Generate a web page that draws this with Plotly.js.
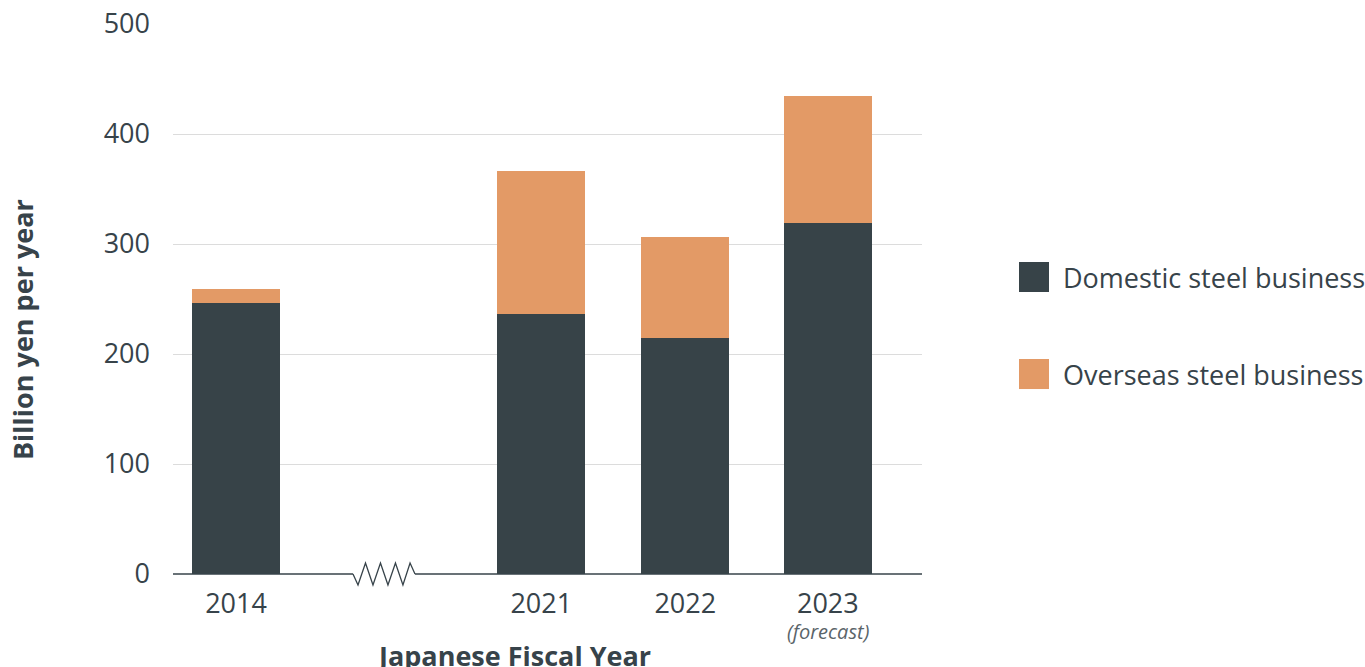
<!DOCTYPE html>
<html>
<head>
<meta charset="utf-8">
<script src="https://cdn.plot.ly/plotly-3.0.1.min.js"></script>
<style>html,body{margin:0;padding:0;background:#fff;}#chart{width:1365px;height:667px;}</style>
</head>
<body>
<div id="chart"></div>
<script>
// Data
const years = ["2014", "2021", "2022", "2023"];
const yearPositions = [0, 2.12, 3.12, 4.11]; // axis break between 2014 and 2021
const domestic = [246, 236, 215, 319];
const overseas = [13, 130, 91, 116];
const seriesNames = ["Domestic steel business", "Overseas steel business"];
const seriesColors = ["#374348", "#e39a66"];
const forecastNote = "(forecast)";
const xTitle = "Japanese Fiscal Year";
const yTitle = "Billion yen per year";

const textColor = "#37434a";
const fontFamily = "'Open Sans', 'Noto Sans', sans-serif";
const fs = 27;

const traces = [
  {type: "bar", x: yearPositions, y: domestic, name: seriesNames[0],
   marker: {color: seriesColors[0]}, width: 0.61, showlegend: false, hoverinfo: "y+name"},
  {type: "bar", x: yearPositions, y: overseas, name: seriesNames[1],
   marker: {color: seriesColors[1]}, width: 0.61, showlegend: false, hoverinfo: "y+name"}
];

// Custom legend (big squares)
const legendShapes = [];
const legendAnn = [];
const legendY = [0.54, 0.3636];
seriesNames.forEach((n, i) => {
  legendShapes.push({type: "rect", xref: "paper", yref: "paper",
    x0: 1.1295, x1: 1.1696, y0: legendY[i] - 0.0273, y1: legendY[i] + 0.0273,
    fillcolor: seriesColors[i], line: {width: 0}});
  legendAnn.push({xref: "paper", yref: "paper", x: 1.1855, y: legendY[i],
    xanchor: "left", yanchor: "middle", showarrow: false, text: n,
    font: {size: fs, color: textColor, family: fontFamily}});
});

// x axis line with a break (zigzag), in paper coordinates
const axisColor = "#37434a";
const zzX = [0.2403, 0.2470, 0.2570, 0.2670, 0.2770, 0.2870, 0.2970, 0.3070, 0.3165, 0.3231];
const zzY = [0, -1, 1, -1, 1, -1, 1, -1, 1, 0];
let path = "";
zzX.forEach((px, i) => {
  path += (i === 0 ? "M" : "L") + px + "," + (zzY[i] * 0.02) + " ";
});
const axisShapes = [
  {type: "line", xref: "paper", yref: "paper", x0: 0, x1: zzX[0], y0: 0, y1: 0, line: {color: axisColor, width: 1.3}},
  {type: "path", xref: "paper", yref: "paper", path: path, line: {color: axisColor, width: 1.3}},
  {type: "line", xref: "paper", yref: "paper", x0: zzX[zzX.length - 1], x1: 1, y0: 0, y1: 0, line: {color: axisColor, width: 1.3}}
];

const layout = {
  width: 1365, height: 667,
  margin: {l: 173, r: 443, t: 24, b: 93},
  paper_bgcolor: "#fff", plot_bgcolor: "#fff",
  barmode: "stack",
  font: {family: fontFamily, color: textColor, size: fs},
  showlegend: false,
  xaxis: {
    range: [-0.4375, 4.764],
    tickvals: yearPositions, ticktext: years,
    showgrid: false, zeroline: false, showline: false,
    ticks: "", ticklabelstandoff: 11,
    tickfont: {size: fs, color: textColor}
  },
  yaxis: {
    range: [0, 500], tickvals: [0, 100, 200, 300, 400, 500],
    showgrid: true, gridcolor: "#dcdcdc", gridwidth: 1,
    zeroline: false, showline: false, ticks: "",
    ticklabelstandoff: 22,
    tickfont: {size: fs, color: textColor}
  },
  shapes: axisShapes.concat(legendShapes),
  annotations: legendAnn.concat([
    {xref: "x", yref: "paper", x: yearPositions[3], y: 0, yshift: -57,
     xanchor: "center", yanchor: "middle", showarrow: false,
     text: "<i>" + forecastNote + "</i>", font: {size: 20, color: "#5a6469", family: fontFamily}},
    {xref: "paper", yref: "paper", x: 0.4553, y: -0.1473, xanchor: "center", yanchor: "middle",
     showarrow: false, text: "<b>" + xTitle + "</b>", font: {size: fs, color: textColor, family: fontFamily}},
    {xref: "paper", yref: "paper", x: -0.2016, y: 0.4436, xanchor: "center", yanchor: "middle",
     textangle: -90, showarrow: false, text: "<b>" + yTitle + "</b>", font: {size: fs, color: textColor, family: fontFamily}}
  ])
};

Plotly.newPlot("chart", traces, layout, {displayModeBar: false, staticPlot: true});
</script>
</body>
</html>
